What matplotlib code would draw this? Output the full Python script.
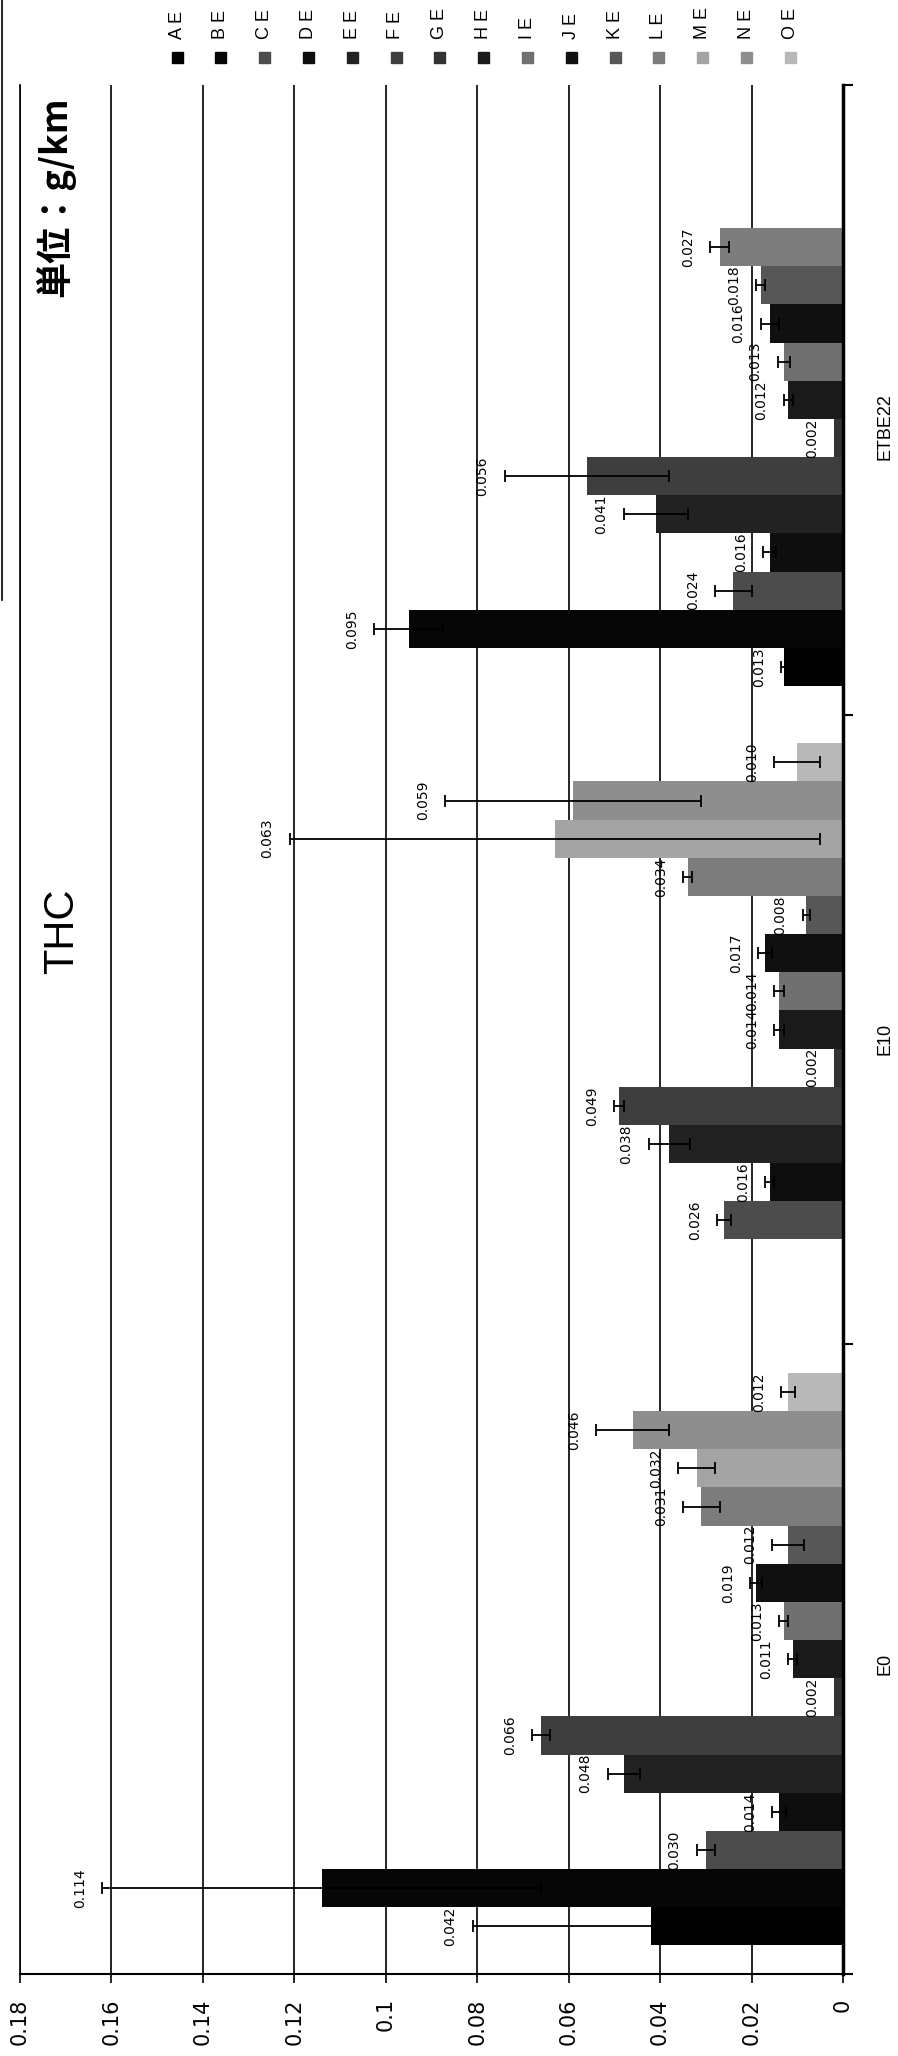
import numpy as np
import matplotlib.pyplot as plt
from matplotlib import font_manager
from matplotlib.patches import Rectangle
from matplotlib.lines import Line2D

# series (legend entries) and fuel groups
series = ['A', 'B', 'C', 'D', 'E', 'F', 'G', 'H', 'I', 'J', 'K', 'L', 'M', 'N', 'O']
fuels = ['E0', 'E10', 'ETBE22']
nan = np.nan

# THC emission (g/km), one list per fuel, in series order
thc_e0 = [0.042, 0.114, 0.030, 0.014, 0.048, 0.066, 0.002, 0.011, 0.013, 0.019, 0.012, 0.031, 0.032, 0.046, 0.012]
thc_e10 = [nan, nan, 0.026, 0.016, 0.038, 0.049, 0.002, 0.014, 0.014, 0.017, 0.008, 0.034, 0.063, 0.059, 0.010]
thc_etbe22 = [0.013, 0.095, 0.024, 0.016, 0.041, 0.056, 0.002, 0.012, 0.013, 0.016, 0.018, 0.027, nan, nan, nan]

# error bar half widths (estimated)
err_e0 = [0.039, 0.048, 0.002, 0.0015, 0.0035, 0.002, 0, 0.001, 0.001, 0.0013, 0.0035, 0.004, 0.004, 0.008, 0.0015]
err_e10 = [nan, nan, 0.0015, 0.001, 0.0045, 0.001, 0, 0.001, 0.001, 0.0015, 0.0008, 0.001, 0.058, 0.028, 0.005]
err_etbe22 = [0.0005, 0.0076, 0.004, 0.0014, 0.007, 0.018, 0, 0.001, 0.0013, 0.002, 0.001, 0.002, nan, nan, nan]

tick_vals = [0, 0.02, 0.04, 0.06, 0.08, 0.1, 0.12, 0.14, 0.16, 0.18]
tick_text = ['0', '0.02', '0.04', '0.06', '0.08', '0.1', '0.12', '0.14', '0.16', '0.18']

colors = ['#000000', '#060606', '#4c4c4c', '#0e0e0e', '#222222', '#3e3e3e', '#333333', '#1a1a1a',
          '#707070', '#101010', '#575757', '#7c7c7c', '#a4a4a4', '#8e8e8e', '#b8b8b8']

names = {f.name for f in font_manager.fontManager.ttflist}
thc_font = 'Liberation Sans Narrow' if 'Liberation Sans Narrow' in names else 'Liberation Sans'

W, H = 898, 2056
fig = plt.figure(figsize=(W / 100, H / 100), dpi=100)
ax = fig.add_axes([20 / W, (H - 1974) / H, (843 - 20) / W, (1974 - 85) / H])

values = np.array([thc_e0, thc_e10, thc_etbe22])
errs = np.array([err_e0, err_e10, err_etbe22])
n = len(series)
h = 1 / (n + 1.5)

for i, s in enumerate(series):
    y = np.arange(len(fuels)) + (i - (n - 1) / 2) * h
    v = values[:, i]
    e = errs[:, i]
    ax.barh(y, v, height=h, color=colors[i], edgecolor='none', zorder=2)
    ok = ~np.isnan(v) & (np.nan_to_num(e) > 0)
    if ok.any():
        ax.errorbar(v[ok], y[ok], xerr=e[ok], fmt='none', ecolor='black',
                    elinewidth=1.3, capsize=4.5, capthick=1.3, zorder=3)
    for vv, ee, yy in zip(v, e, y):
        if np.isnan(vv):
            continue
        ax.annotate(f'{vv:.3f}', (vv + ee, yy), xytext=(-16, 0), textcoords='offset points',
                    ha='center', va='center', rotation=90, fontsize=10, zorder=4)

ax.set_xlim(0.18, 0)
ax.set_ylim(-0.5, 2.5)
ax.set_xticks(tick_vals)
ax.set_xticklabels(tick_text)
ax.tick_params(axis='x', direction='out', length=6.5, width=1.2, labelsize=15,
               labelrotation=90, pad=11)
ax.grid(axis='x', color='black', lw=1.2)
ax.set_axisbelow(True)

ax.yaxis.tick_right()
ax.set_yticks(range(len(fuels)))
ax.set_yticklabels(fuels, fontfamily='Liberation Sans')
ax.set_yticks(np.arange(-0.5, len(fuels), 1.0), minor=True)
ax.tick_params(axis='y', which='major', length=0, pad=24, labelsize=13, labelrotation=90)
ax.tick_params(axis='y', which='minor', length=7.5, width=1.5, direction='out')

ax.spines['top'].set_visible(False)
ax.spines['left'].set_linewidth(1.2)
ax.spines['right'].set_linewidth(2.5)
ax.spines['bottom'].set_linewidth(1.5)

# titles
fig.text(62 / W, 1 - 931 / H, 'THC', rotation=90, ha='center', va='center',
         fontsize=30, family=thc_font)
fig.text(55 / W, 1 - 197 / H, '単位：g/km', rotation=90, ha='center', va='center',
         fontsize=26, fontweight='bold', family=['Noto Sans CJK JP', 'DejaVu Sans'])

# legend across the top
for i, s in enumerate(series):
    x = 177 + 43.8 * i
    fig.add_artist(Rectangle(((x - 5.5) / W, 1 - 63 / H), 11 / W, 11 / H,
                             transform=fig.transFigure, color=colors[i]))
    fig.text(x / W, 1 - 39 / H, f'{s} E', rotation=90, ha='center', va='bottom',
             fontsize=13, family='Liberation Sans')

# chart border at the left
fig.add_artist(Line2D([2 / W, 2 / W], [1, 1 - 600 / H], color='black', lw=1.2,
                      transform=fig.transFigure))

fig.savefig('out.png', dpi=100)
